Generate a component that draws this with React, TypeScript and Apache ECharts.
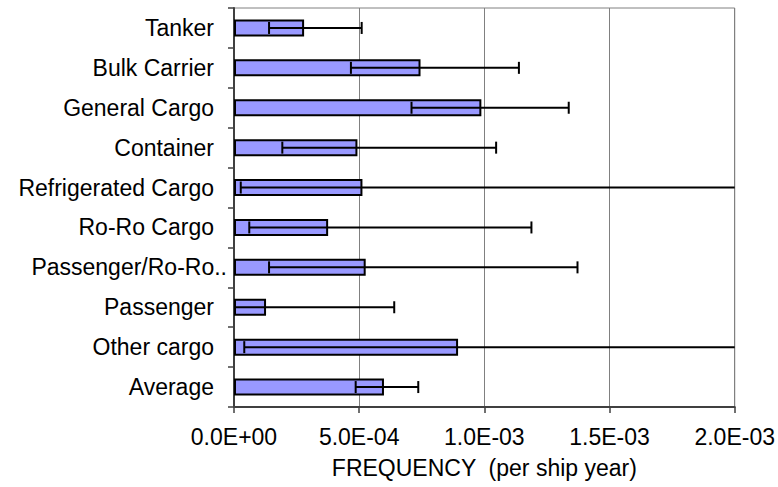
import React, { useEffect, useRef } from "react";
import * as echarts from "echarts";

const categories = [
  "Tanker",
  "Bulk Carrier",
  "General Cargo",
  "Container",
  "Refrigerated Cargo",
  "Ro-Ro Cargo",
  "Passenger/Ro-Ro..",
  "Passenger",
  "Other cargo",
  "Average",
];
const frequency = [2.8e-4, 7.45e-4, 9.88e-4, 4.93e-4, 5.13e-4, 3.76e-4, 5.26e-4, 1.28e-4, 8.95e-4, 5.99e-4];
const lowerBound = [1.4e-4, 4.67e-4, 7.09e-4, 1.93e-4, 2.7e-5, 6.1e-5, 1.4e-4, 4e-6, 4.1e-5, 4.86e-4];
const upperBound = [5.1e-4, 1.138e-3, 1.337e-3, 1.047e-3, 2.5e-3, 1.188e-3, 1.372e-3, 6.4e-4, 2.5e-3, 7.36e-4];
const xTickLabels = ["0.0E+00", "5.0E-04", "1.0E-03", "1.5E-03", "2.0E-03"];

const FONT = "'Liberation Sans', Arial, sans-serif";

export default function App() {
  const ref = useRef<HTMLDivElement>(null);
  useEffect(() => {
    document.body.style.margin = "0";
    const chart = echarts.init(ref.current!, null, { renderer: "svg" });
    const errData = categories.map((_, i) => [i, lowerBound[i], upperBound[i]]);
    const yData = categories.map((c) =>
      c.endsWith("..") ? { value: c, textStyle: { padding: [0, -13, 0, 0] } } : c
    );
    chart.setOption({
      animation: false,
      backgroundColor: "#ffffff",
      grid: {
        left: 234,
        right: 43,
        top: 8,
        bottom: 80,
        show: true,
        borderColor: "#808080",
        borderWidth: 1,
        containLabel: false,
      },
      xAxis: {
        type: "value",
        min: 0,
        max: 0.002,
        interval: 0.0005,
        axisLine: { show: true, lineStyle: { color: "#404040", width: 2 } },
        axisTick: { show: true, length: 6, lineStyle: { color: "#404040", width: 1.5 } },
        splitLine: { show: true, lineStyle: { color: "#808080", width: 1 } },
        axisLabel: {
          fontFamily: FONT,
          fontSize: 23,
          color: "#000",
          margin: 18,
          formatter: (_v: number, idx: number) => xTickLabels[idx] ?? "",
        },
        name: "FREQUENCY  (per ship year)",
        nameLocation: "middle",
        nameGap: 49,
        nameTextStyle: { fontFamily: FONT, fontSize: 23, color: "#000" },
      },
      yAxis: {
        type: "category",
        inverse: true,
        data: yData,
        axisLine: { show: true, lineStyle: { color: "#404040", width: 2 } },
        axisTick: { show: true, length: 6, inside: false, lineStyle: { color: "#404040", width: 1.5 } },
        splitLine: { show: false },
        axisLabel: {
          fontFamily: FONT,
          fontSize: 23,
          color: "#000",
          margin: 20,
        },
      },
      series: [
        {
          type: "bar",
          data: frequency,
          barWidth: 17,
          itemStyle: { color: "#9999FF", borderColor: "#000", borderWidth: 2 },
        },
        {
          type: "custom",
          data: errData,
          encode: { x: [1, 2], y: 0 },
          z: 10,
          renderItem: (params: any, api: any) => {
            const cat = api.value(0);
            const lo = api.coord([api.value(1), cat]);
            const hi = api.coord([api.value(2), cat]);
            const cs = params.coordSys;
            const right = cs.x + cs.width;
            const y = lo[1];
            const clipped = hi[0] > right;
            const hx = Math.min(hi[0], right);
            const style = { stroke: "#000", lineWidth: 2 };
            const children: any[] = [
              { type: "line", shape: { x1: lo[0], y1: y, x2: hx, y2: y }, style },
              { type: "line", shape: { x1: lo[0], y1: y - 6, x2: lo[0], y2: y + 6 }, style },
            ];
            if (!clipped) {
              children.push({ type: "line", shape: { x1: hx, y1: y - 6, x2: hx, y2: y + 6 }, style });
            }
            return { type: "group", children };
          },
        },
      ],
    });
    return () => chart.dispose();
  }, []);
  return <div ref={ref} style={{ width: 778, height: 487 }} />;
}
